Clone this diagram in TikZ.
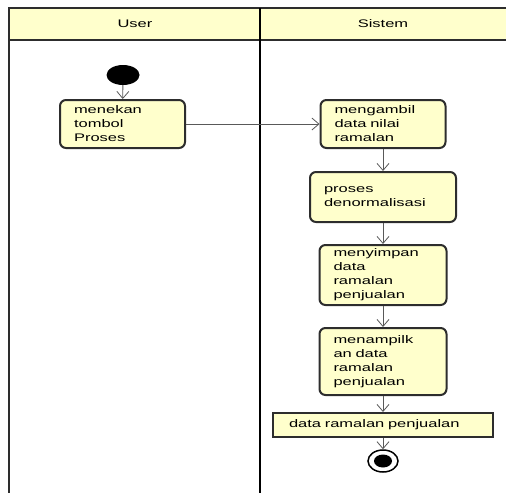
\documentclass[tikz,border=0pt]{standalone}
\usepackage{fontspec}
\setmainfont{Liberation Sans}[FakeStretch=1.5]
\usepackage{xcolor}
\usetikzlibrary{arrows.meta,shapes.geometric}

\definecolor{umlfill}{RGB}{255,255,204}
\definecolor{umlline}{RGB}{45,45,45}

\tikzset{
  action/.style={draw=umlline, line width=2pt, fill=umlfill, rounded corners=6pt,
    align=left, inner xsep=14pt, inner ysep=0pt, font=\fontsize{11}{14}\selectfont},
  objbox/.style={draw=umlline, line width=2pt, fill=umlfill, align=left,
    inner xsep=16pt, inner ysep=0pt, font=\fontsize{11}{14}\selectfont},
  lane/.style={font=\fontsize{11}{14}\selectfont},
  flow/.style={-{Straight Barb[length=7pt,width=12pt]}, draw=gray!70!black, line width=0.8pt},
}

\begin{document}
\begin{tikzpicture}[x=1pt,y=-1pt]
\useasboundingbox (0,0) rectangle (506,493);
% swimlanes
\fill[umlfill] (9,8) rectangle (506,40);
\draw[umlline, line width=1.5pt] (506,8) -- (9,8) -- (9,493);
\draw[umlline, line width=1.2pt] (9,40) -- (506,40);
\draw[black, line width=2.5pt] (260,8) -- (260,493);
\node[lane] (user) at (135,24) {User};
\node[lane] (sistem) at (383,24) {Sistem};

% activities
\node[ellipse, fill=black, minimum width=33pt, minimum height=20pt, inner sep=0pt] (start) at (123,75) {};
\node[action, text width=97pt, minimum height=48pt] (press) at (122.5,124) {menekan\\tombol\\Proses};
\node[action, text width=97pt, minimum height=48pt] (fetch) at (383,124) {mengambil\\data nilai\\ramalan};
\node[action, text width=118pt, minimum height=50pt] (denorm) at (383,197) {proses\\denormalisasi};
\node[action, text width=99pt, minimum height=60pt] (store) at (383,275) {menyimpan\\data\\ramalan\\penjualan};
\node[action, text width=99pt, minimum height=67pt] (show) at (383,361.5) {menampilk\\an data\\ramalan\\penjualan};
\node[objbox, text width=188pt, minimum height=24pt] (result) at (383,425) {data ramalan penjualan};
\node[ellipse, draw=black, line width=1.5pt, minimum width=30pt, minimum height=22pt, inner sep=0pt] (end) at (383,461) {};
\fill[black] (end) ellipse (9 and 6.5);

% flows
\draw[flow] (start) -- (press);
\draw[flow] (press) -- (fetch);
\draw[flow] (fetch) -- (denorm);
\draw[flow] (denorm) -- (store);
\draw[flow] (store) -- (show);
\draw[flow] (show) -- (result);
\draw[flow] (result) -- (end);
\end{tikzpicture}
\end{document}
